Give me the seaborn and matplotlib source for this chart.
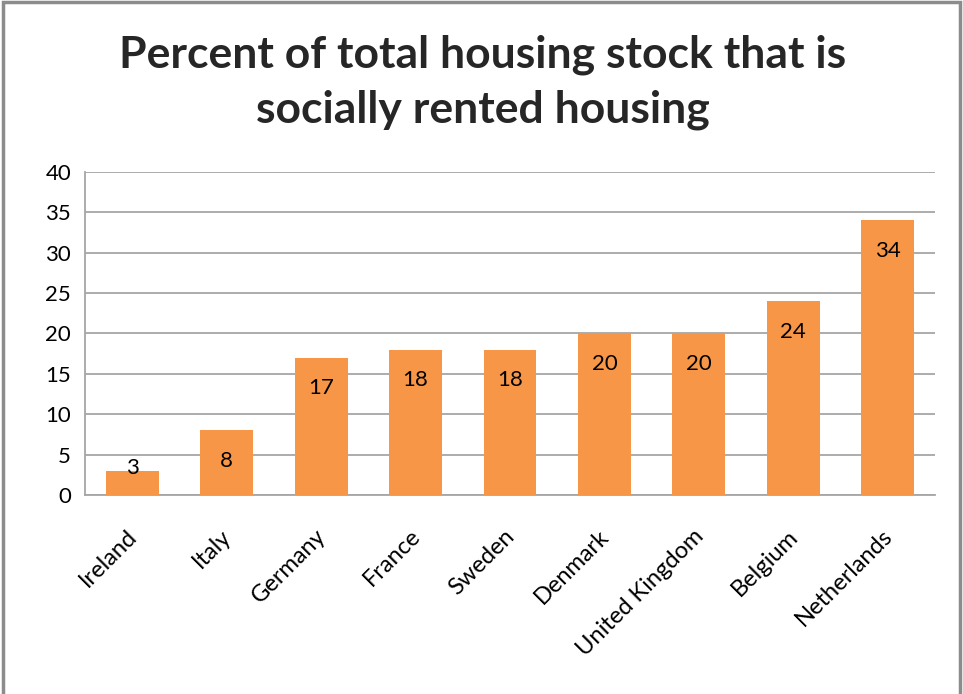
import matplotlib
matplotlib.use("Agg")
import matplotlib.pyplot as plt
import matplotlib.transforms as mtransforms
import seaborn as sns
import pandas as pd
from matplotlib.patches import Rectangle

countries = ["Ireland", "Italy", "Germany", "France", "Sweden", "Denmark",
             "United Kingdom", "Belgium", "Netherlands"]
values = [3, 8, 17, 18, 18, 20, 20, 24, 34]
yticks = [0, 5, 10, 15, 20, 25, 30, 35, 40]

sns.set_theme(style="white")
plt.rcParams['font.family'] = ['Lato', 'DejaVu Sans']

df = pd.DataFrame({"country": countries, "value": values})

fig = plt.figure(figsize=(9.63, 6.94), dpi=100)
ax = fig.add_axes([85/963, 1-495/694, (935-85)/963, (495-172)/694])

sns.barplot(data=df, x="country", y="value", color="#F79646", saturation=1,
            width=0.56, ax=ax, zorder=3, linewidth=0)

ax.set_ylim(0, 40)
ax.set_yticks(yticks)
ax.set_xlim(-0.5, len(countries) - 0.5)
ax.yaxis.grid(True, color="#A6A6A6", linewidth=1.3, zorder=0)
ax.set_axisbelow(True)
for s in ["top", "right"]:
    ax.spines[s].set_visible(False)
for s in ["left", "bottom"]:
    ax.spines[s].set_color("#A6A6A6")
    ax.spines[s].set_linewidth(1.3)
ax.tick_params(axis="y", length=0, labelsize=16, colors="#000000", pad=10)
ax.tick_params(axis="x", length=0, labelsize=17, colors="#000000", pad=22)
ax.set_xlabel("")
ax.set_ylabel("")
offset = mtransforms.ScaledTranslation(-6/100, 0, fig.dpi_scale_trans)
for lab in ax.get_xticklabels():
    lab.set_rotation(45)
    lab.set_ha("right")
    lab.set_rotation_mode("anchor")
    lab.set_transform(lab.get_transform() + offset)

for i, v in enumerate(values):
    ax.text(i, max(v - 3.8, 3.3), str(v), ha="center", va="center",
            fontsize=16, color="#000000", zorder=4)

fig.text(483/963, 1-55/694, "Percent of total housing stock that is",
         ha="center", va="center", fontsize=32, fontweight="bold")
fig.text(483/963, 1-110/694, "socially rented housing",
         ha="center", va="center", fontsize=32, fontweight="bold")

# outer frame
fig.patches.append(Rectangle((3/963, -0.1), (960-3)/963, 1.1 - 2/694,
                             transform=fig.transFigure, fill=False,
                             edgecolor="#8C8C8C", linewidth=2.5))

fig.savefig("out.png", dpi=100)
